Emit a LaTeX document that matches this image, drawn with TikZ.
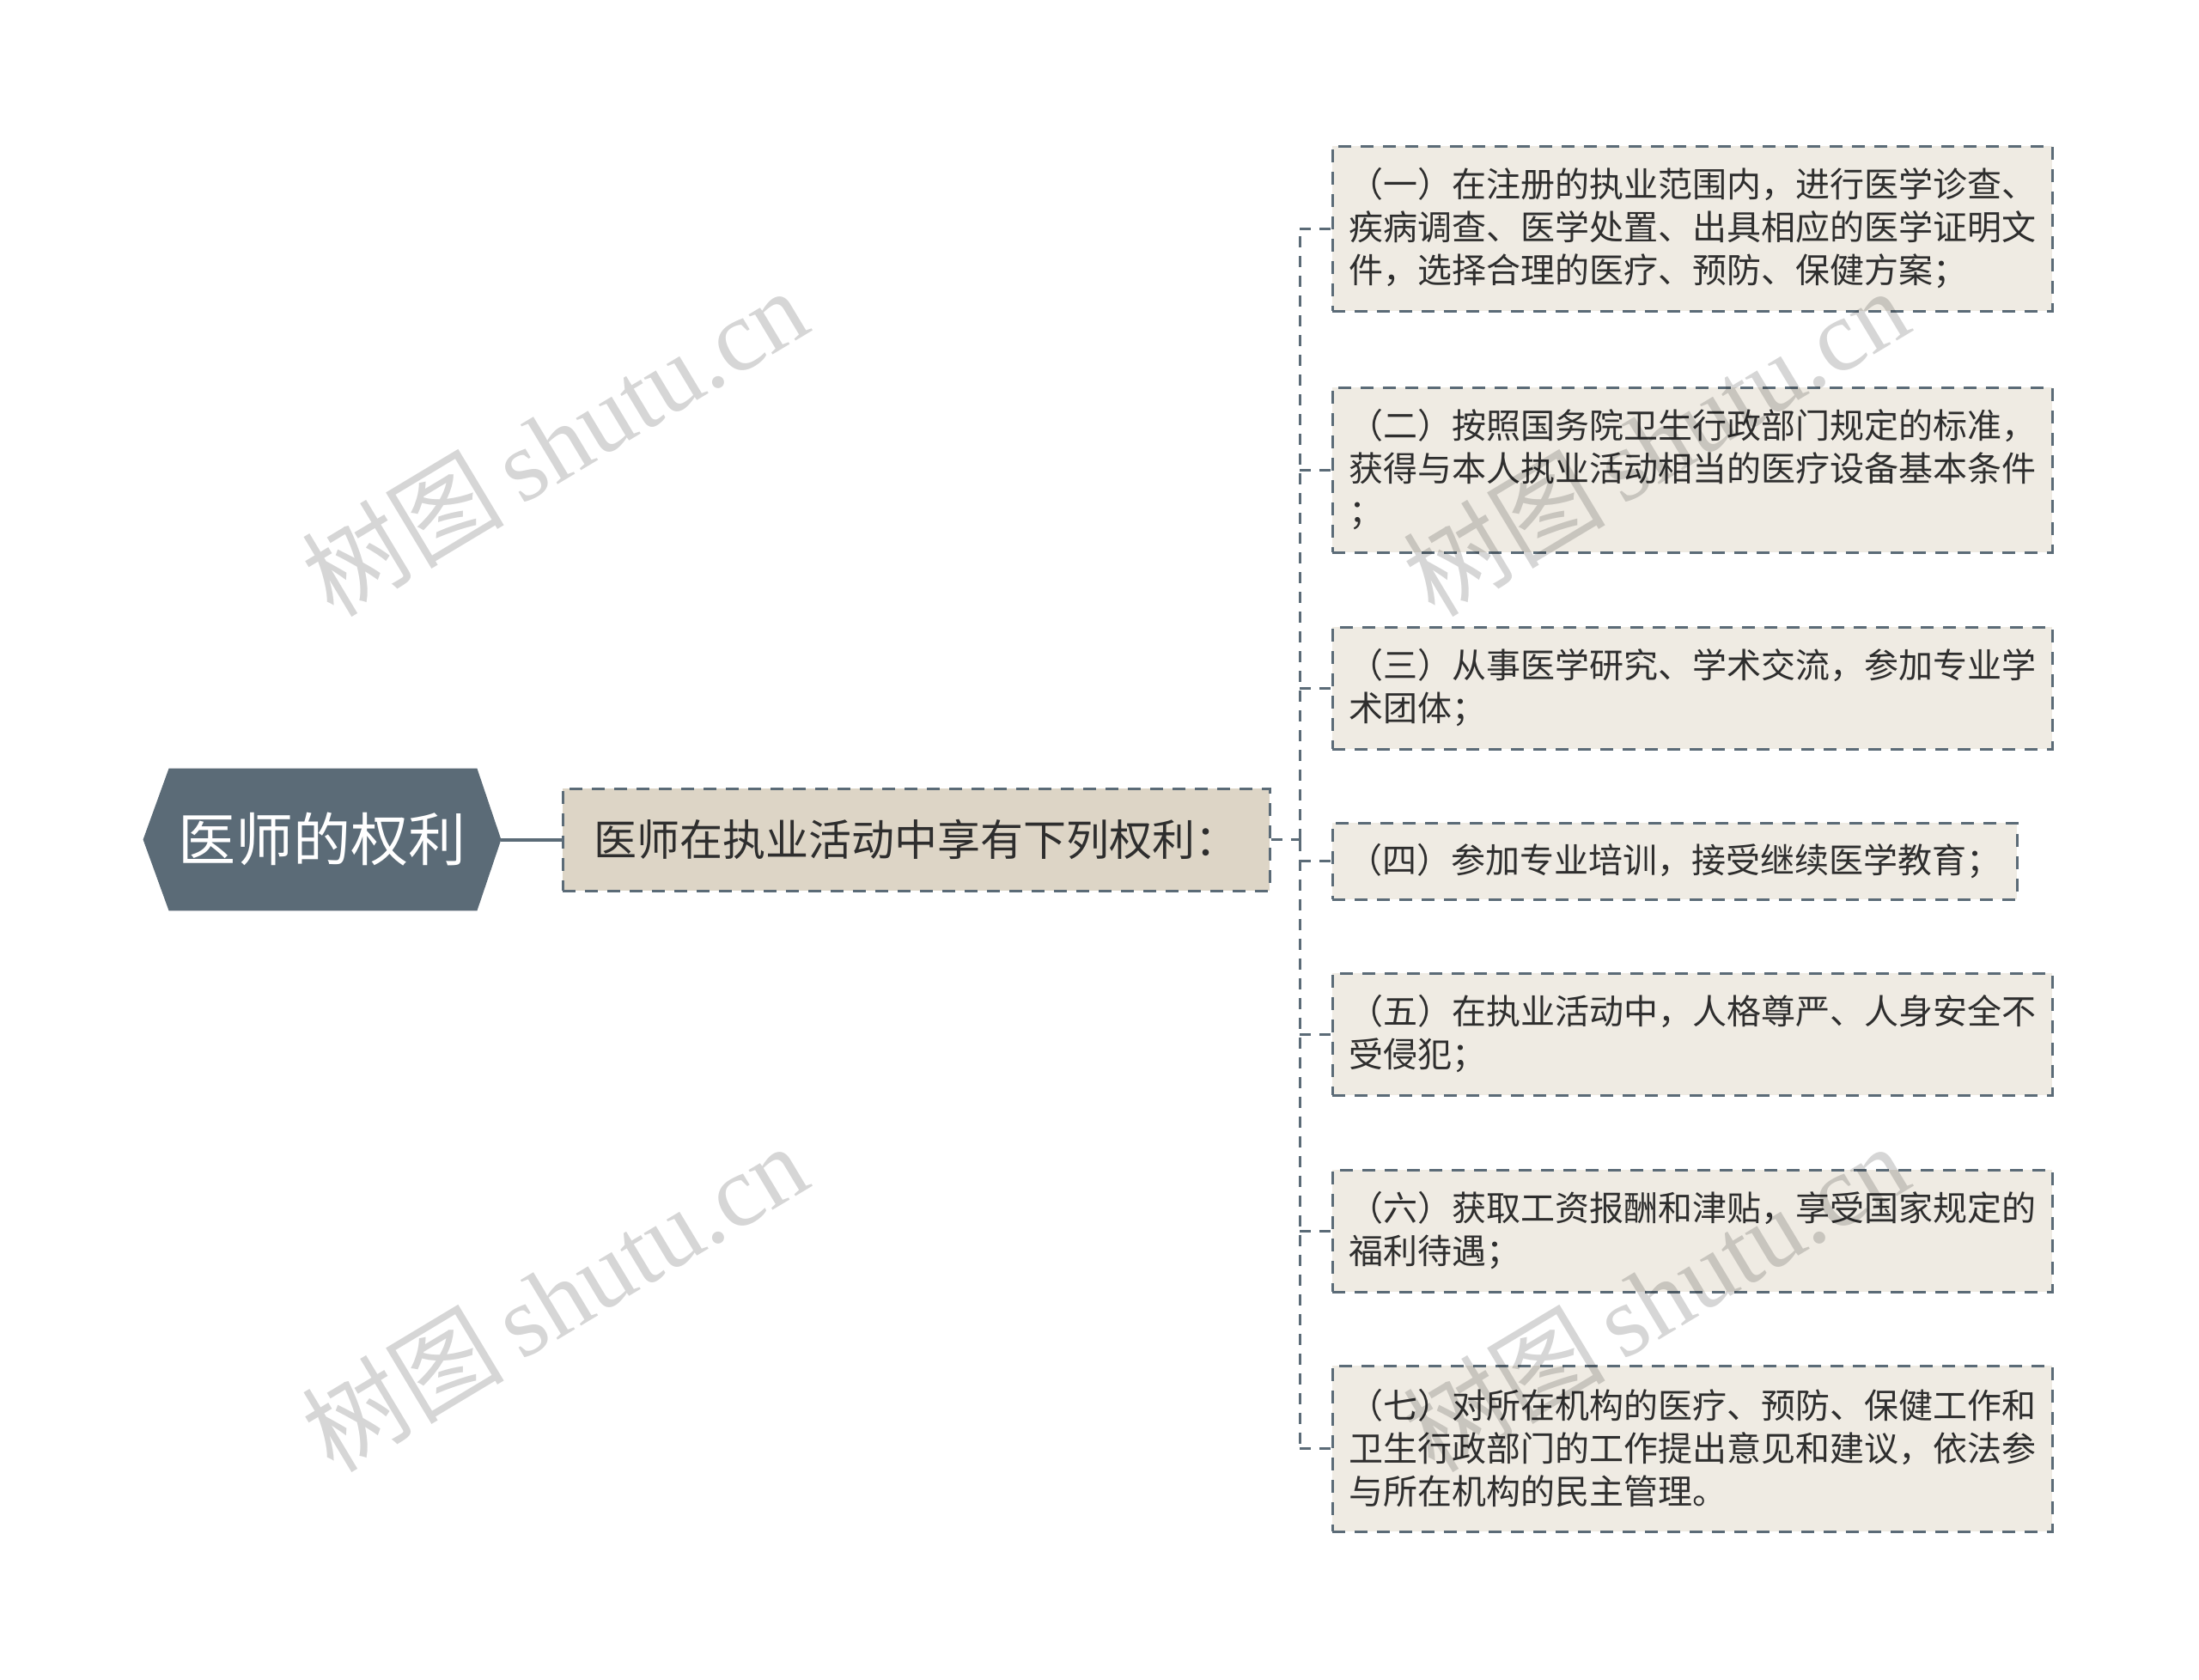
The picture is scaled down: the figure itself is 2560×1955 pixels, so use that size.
\documentclass[tikz,border=0pt]{standalone}
\usepackage{fontspec}
\setmainfont{Noto Sans CJK SC}
\newfontfamily\wmfont{Liberation Serif}
\usetikzlibrary{backgrounds}
\definecolor{slate}{HTML}{5B6B77}
\definecolor{midfill}{HTML}{DDD5C6}
\definecolor{leaffill}{HTML}{EFEBE3}
\definecolor{txt}{HTML}{2E2E2E}
\tikzset{
  leafbox/.style={draw=slate, line width=1.5pt, dash pattern=on 7.5pt off 5.5pt,
    fill=leaffill, text=txt, font=\fontsize{20}{25}\selectfont, align=left,
    minimum width=419pt, inner sep=0pt, anchor=center},
  midbox/.style={draw=slate, line width=1.5pt, dash pattern=on 7.5pt off 5.5pt,
    fill=midfill, text=txt, font=\fontsize{25}{30}\selectfont,
    minimum width=411.5pt, minimum height=59.5pt, inner sep=0pt},
  rootnode/.style={text=white, font=\fontsize{33.5}{36}\selectfont,
    minimum width=208pt, minimum height=82.5pt, inner sep=0pt},
  conn/.style={draw=slate, line width=1.5pt, dash pattern=on 6.5pt off 5pt},
  rootconn/.style={draw=slate, line width=2pt},
  wm/.style={text=black, text opacity=0.16, font=\fontsize{59}{60}\selectfont, rotate=31}
}
\begin{document}
\begin{tikzpicture}[x=0.5pt,y=-0.5pt]
\useasboundingbox (0,0) rectangle (2560,1955);

% root
\node[rootnode] (root) at (375,977.5) {医师的权利};
\begin{scope}[on background layer]
\fill[white] (0,0) rectangle (2560,1955);
\fill[slate] (root.west) -- ([xshift=15pt]root.north west) -- ([xshift=-14pt]root.north east)
  -- (root.east) -- ([xshift=-14pt]root.south east) -- ([xshift=15pt]root.south west) -- cycle;
\end{scope}

% middle
\node[midbox] (mid) at (1066.5,977.5) {医师在执业活动中享有下列权利：};

% leaves
\node[leafbox, minimum height=96pt] (l1) at (1970,266) {（一）在注册的执业范围内，进行医学诊查、\\疾病调查、医学处置、出具相应的医学证明文\\件，选择合理的医疗、预防、保健方案；};
\node[leafbox, minimum height=96pt] (l2) at (1970,547) {（二）按照国务院卫生行政部门规定的标准，\\获得与本人执业活动相当的医疗设备基本条件\\；};
\node[leafbox, minimum height=71pt] (l3) at (1970,801) {（三）从事医学研究、学术交流，参加专业学\\术团体；};
\node[leafbox, minimum height=44.5pt, minimum width=398.5pt] (l4) at (1949.5,1002.5) {（四）参加专业培训，接受继续医学教育；};
\node[leafbox, minimum height=71pt] (l5) at (1970,1204) {（五）在执业活动中，人格尊严、人身安全不\\受侵犯；};
\node[leafbox, minimum height=71pt] (l6) at (1970,1433) {（六）获取工资报酬和津贴，享受国家规定的\\福利待遇；};
\node[leafbox, minimum height=96.5pt] (l7) at (1970,1686.5) {（七）对所在机构的医疗、预防、保健工作和\\卫生行政部门的工作提出意见和建议，依法参\\与所在机构的民主管理。};

% connectors
\draw[rootconn] (root.east) -- (mid.west);
\coordinate (j) at (1513,977.5);
\draw[conn] (mid.east) -- (j);
\draw[conn] (j) -- (j |- l1.west);
\draw[conn] (j) -- (j |- l7.west);
\foreach \n in {l1,l2,l3,l4,l5,l6,l7} {
  \draw[conn] (j |- \n.west) -- (\n.west);
}

% watermarks
\node[wm] (w1) at (645,514) {树图\,{\wmfont shutu.cn}};
\node[wm] (w2) at (645,1510) {树图\,{\wmfont shutu.cn}};
\node[wm] (w3) at (1927,514) {树图\,{\wmfont shutu.cn}};
\node[wm] (w4) at (1927,1510) {树图\,{\wmfont shutu.cn}};
\end{tikzpicture}
\end{document}
